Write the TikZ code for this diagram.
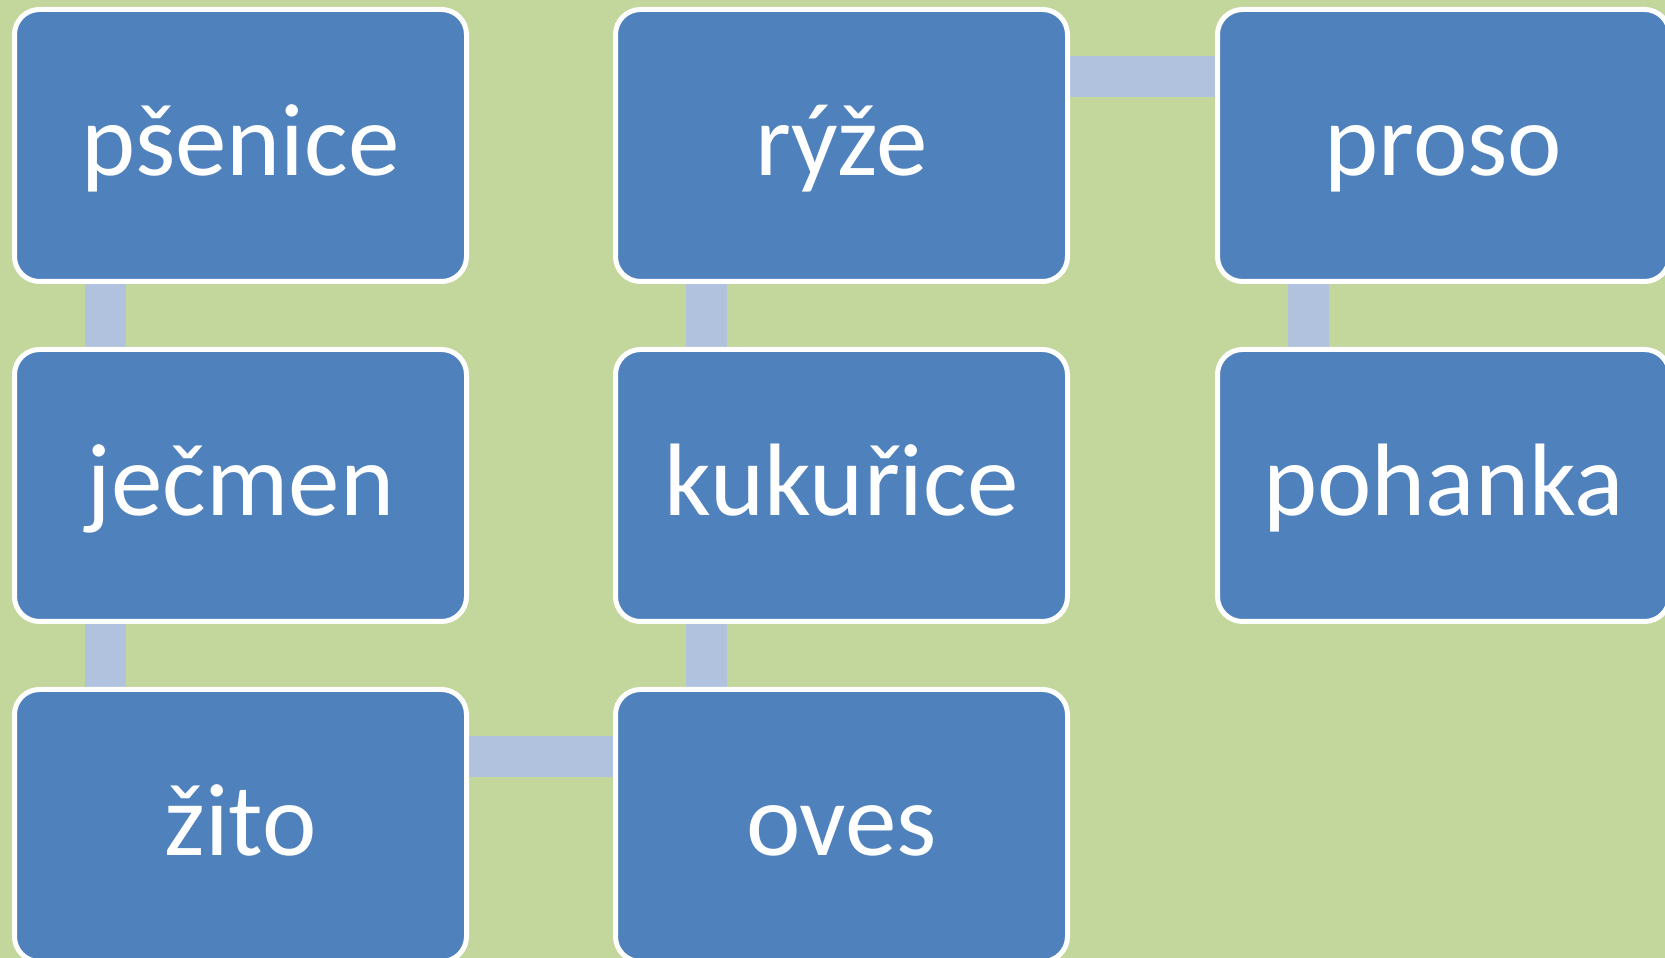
\documentclass[tikz,border=0pt]{standalone}
\usepackage{fontspec}
\setmainfont{Carlito}
\usetikzlibrary{backgrounds}
\definecolor{bggreen}{HTML}{C3D69B}
\definecolor{boxblue}{HTML}{4F81BD}
\definecolor{connblue}{HTML}{B0C2DE}
\tikzset{
  grain/.style={rectangle, rounded corners=25pt, fill=boxblue, draw=white,
    line width=5pt, minimum width=452pt, minimum height=272pt, inner sep=0pt,
    text=white, font=\fontsize{103}{118}\selectfont, text height=80pt, text depth=20pt},
  conn/.style={connblue, line width=41pt}
}
\begin{document}
\begin{tikzpicture}[x=1pt,y=1pt]
\useasboundingbox (0,0) rectangle (1665,958);
\clip (0,0) rectangle (1665,958);
\node[grain] (psenice)  at (240.5,812.5) {pšenice};
\node[grain] (jecmen)   at (240.5,472.5) {ječmen};
\node[grain] (zito)     at (240.5,132.5) {žito};
\node[grain] (ryze)     at (841.5,812.5) {rýže};
\node[grain] (kukurice) at (841.5,472.5) {kukuřice};
\node[grain] (oves)     at (841.5,132.5) {oves};
\node[grain] (proso)    at (1443.5,812.5) {proso};
\node[grain] (pohanka)  at (1443.5,472.5) {pohanka};
\begin{scope}[on background layer]
\fill[bggreen] (0,0) rectangle (1665,958);
\draw[conn] ([xshift=93pt]psenice.south west) -- ([xshift=93pt]jecmen.north west);
\draw[conn] ([xshift=93pt]jecmen.south west) -- ([xshift=93pt]zito.north west);
\draw[conn] ([yshift=-69.5pt]zito.north east) -- ([yshift=-69.5pt]oves.north west);
\draw[conn] ([xshift=93pt]oves.north west) -- ([xshift=93pt]kukurice.south west);
\draw[conn] ([xshift=93pt]kukurice.north west) -- ([xshift=93pt]ryze.south west);
\draw[conn] ([yshift=-69.5pt]ryze.north east) -- ([yshift=-69.5pt]proso.north west);
\draw[conn] ([xshift=93pt]proso.south west) -- ([xshift=93pt]pohanka.north west);
\end{scope}
\end{tikzpicture}
\end{document}
